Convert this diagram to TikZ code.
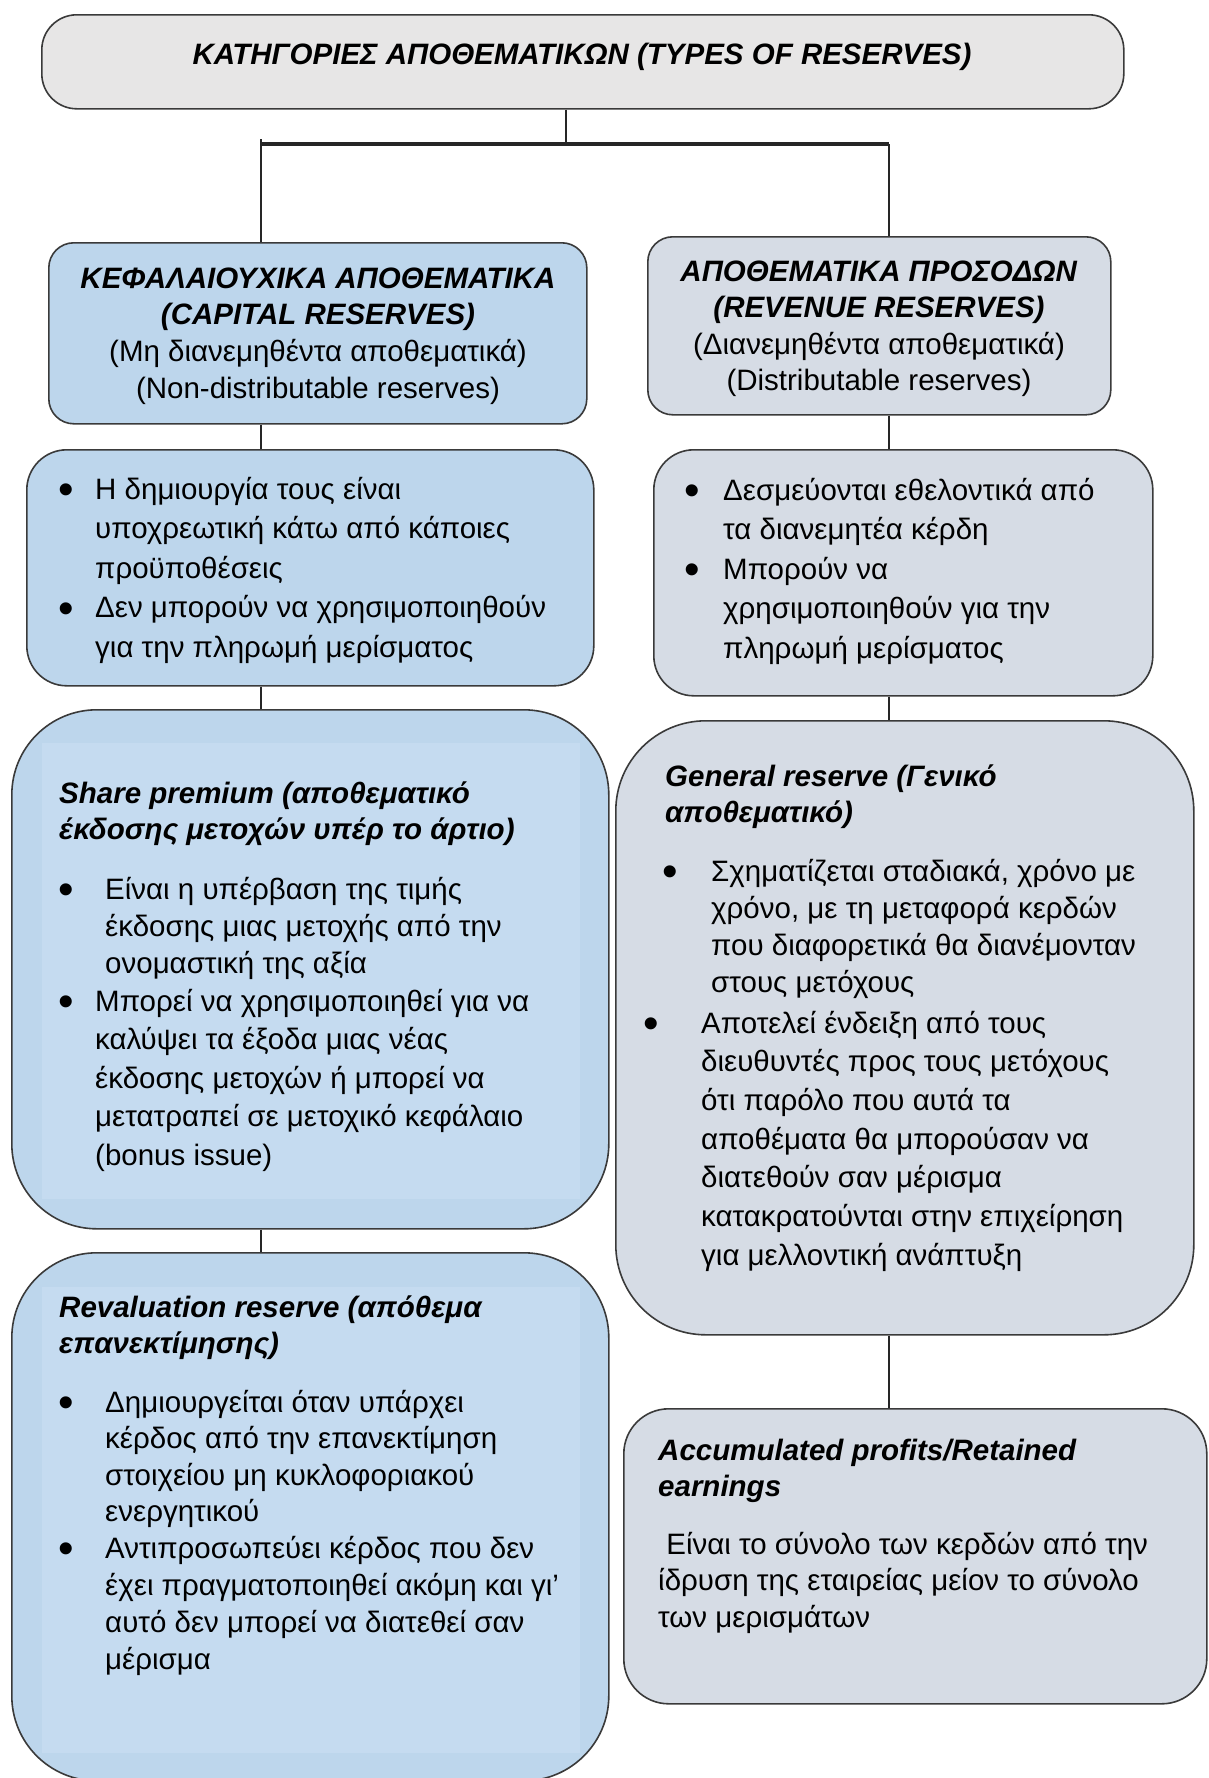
\documentclass[tikz,border=0pt]{standalone}
\usepackage{fontspec}
\setmainfont{Liberation Sans}
\usepackage{xcolor}
\usetikzlibrary{calc}

\definecolor{topgray}{HTML}{E7E6E6}
\definecolor{capblue}{HTML}{BDD6EC}
\definecolor{innerblue}{HTML}{C5DBF0}
\definecolor{revgray}{HTML}{D6DCE5}
\definecolor{edgegray}{HTML}{3A3A3A}
\definecolor{linkgray}{HTML}{262626}

\newcommand{\headtxt}[1]{\textbf{\textit{#1}}}
\newcommand{\dotmark}{\makebox[0pt][c]{\raisebox{-0.2em}{\scalebox{1.5}{•}}}}
\newcommand{\txtrows}[1]{\begin{tabular}[t]{@{}l@{}}#1\end{tabular}}
\newcommand{\midrows}[1]{\begin{tabular}[t]{@{}c@{}}#1\end{tabular}}
\newcommand{\bulrows}[2]{\begin{tabular}[t]{@{}p{#1}@{}l@{}}#2\end{tabular}}

\begin{document}
\begin{tikzpicture}[x=1pt, y=-1pt,
		box/.style={draw=edgegray, line width=1.6pt, anchor=north west, inner sep=0pt},
		link/.style={draw=linkgray, line width=2.6pt},
		body/.style={anchor=base west, inner sep=0pt, font=\fontsize{29.5}{#1}\selectfont},
		body/.default=38,
		title/.style={anchor=base west, inner sep=0pt, font=\fontsize{29.5}{36}\selectfont\bfseries\itshape}]

	\useasboundingbox (0,0) rectangle (1208,1778);

	\def\forkY{144};
	\coordinate (split) at (566,\forkY);
	\coordinate (forkL) at (261,\forkY);
	\coordinate (forkR) at (889,\forkY);

	% boxes
	\node[box, fill=topgray, rounded corners=35pt, minimum width=1082pt, minimum height=94pt] (top) at (41,14) {};
	\node[box, fill=capblue, rounded corners=25pt, minimum width=538pt, minimum height=181pt] (cap) at (48,242) {};
	\node[box, fill=revgray, rounded corners=25pt, minimum width=463pt, minimum height=178pt] (rev) at (647,236) {};
	\node[box, fill=capblue, rounded corners=40pt, minimum width=567pt, minimum height=236pt] (capbul) at (26,449) {};
	\node[box, fill=revgray, rounded corners=40pt, minimum width=499pt, minimum height=246pt] (revbul) at (653,449) {};
	\node[box, fill=capblue, rounded corners=85pt, minimum width=597pt, minimum height=519pt] (share) at (11,709) {};
	\node[box, fill=revgray, rounded corners=90pt, minimum width=578pt, minimum height=614pt] (general) at (615,720) {};
	\node[box, fill=capblue, rounded corners=85pt, minimum width=597pt, minimum height=528pt] (reval) at (11,1252) {};
	\node[box, fill=revgray, rounded corners=45pt, minimum width=583pt, minimum height=295pt] (accum) at (623,1408) {};

	\fill[innerblue] ($(share.north west)+(31,34)$) rectangle ($(share.south east)+(-30,-31)$);
	\fill[innerblue] ($(reval.north west)+(31,35)$) rectangle ($(reval.south east)+(-30,-29)$);

	% connectors
	\draw[link] (top.south -| split) -- (split);
	\draw[link, line width=4pt] (forkL) -- (forkR);
	\draw[link] ($(forkL)+(0,-5)$) -- (forkL |- cap.north);
	\draw[link] (forkR) -- (forkR |- rev.north);
	\draw[link] (cap.south -| forkL) -- (capbul.north -| forkL);
	\draw[link] (rev.south -| forkR) -- (revbul.north -| forkR);
	\draw[link] (capbul.south -| forkL) -- (share.north -| forkL);
	\draw[link] (revbul.south -| forkR) -- (general.north -| forkR);
	\draw[link] (share.south -| forkL) -- (reval.north -| forkL);
	\draw[link] (general.south -| forkR) -- (accum.north -| forkR);

	% texts
	\node[title, anchor=base] (toptext) at (582,64) {ΚΑΤΗΓΟΡΙΕΣ ΑΠΟΘΕΜΑΤΙΚΩΝ (TYPES OF RESERVES)};

	\node[body=36.7, anchor=base] (captext) at (318,288) {\midrows{\headtxt{ΚΕΦΑΛΑΙΟΥΧΙΚΑ ΑΠΟΘΕΜΑΤΙΚΑ}\\ \headtxt{(CAPITAL RESERVES)}\\ (Μη διανεμηθέντα αποθεματικά)\\ (Non-distributable reserves)}};
	\node[body=36.5, anchor=base] (revtext) at (879,281) {\midrows{\headtxt{ΑΠΟΘΕΜΑΤΙΚΑ ΠΡΟΣΟΔΩΝ}\\ \headtxt{(REVENUE RESERVES)}\\ (Διανεμηθέντα αποθεματικά)\\ (Distributable reserves)}};

	\node[body=39.5] (capbultext) at (66,499) {\bulrows{29pt}{\dotmark&Η δημιουργία τους είναι\\ &υποχρεωτική κάτω από κάποιες\\ &προϋποθέσεις\\ \dotmark&Δεν μπορούν να χρησιμοποιηθούν\\ &για την πληρωμή μερίσματος}};
	\node[body=39.5] (revbultext) at (692,500) {\bulrows{31pt}{\dotmark&Δεσμεύονται εθελοντικά από\\ &τα διανεμητέα κέρδη\\ \dotmark&Μπορούν να\\ &χρησιμοποιηθούν για την\\ &πληρωμή μερίσματος}};

	\node[title] (sharetitle) at (59,803) {\txtrows{Share premium (αποθεματικό\\ έκδοσης μετοχών υπέρ το άρτιο)}};
	\node[body=37] (shareone) at (66,899) {\bulrows{39pt}{\dotmark&Είναι η υπέρβαση της τιμής\\ &έκδοσης μιας μετοχής από την\\ &ονομαστική της αξία}};
	\node[body=38.5] (sharetwo) at (66,1011) {\bulrows{29pt}{\dotmark&Μπορεί να χρησιμοποιηθεί για να\\ &καλύψει τα έξοδα μιας νέας\\ &έκδοσης μετοχών ή μπορεί να\\ &μετατραπεί σε μετοχικό κεφάλαιο\\ &(bonus issue)}};

	\node[title] (gentitle) at (665,786) {\txtrows{General reserve (Γενικό\\ αποθεματικό)}};
	\node[body=37] (genone) at (670,881) {\bulrows{41pt}{\dotmark&Σχηματίζεται σταδιακά, χρόνο με\\ &χρόνο, με τη μεταφορά κερδών\\ &που διαφορετικά θα διανέμονταν\\ &στους μετόχους}};
	\node[body=38.7] (gentwo) at (651,1033) {\bulrows{50pt}{\dotmark&Αποτελεί ένδειξη από τους\\ &διευθυντές προς τους μετόχους\\ &ότι παρόλο που αυτά τα\\ &αποθέματα θα μπορούσαν να\\ &διατεθούν σαν μέρισμα\\ &κατακρατούνται στην επιχείρηση\\ &για μελλοντική ανάπτυξη}};

	\node[title] (revaltitle) at (59,1317) {\txtrows{Revaluation reserve (απόθεμα\\ επανεκτίμησης)}};
	\node[body=36.5] (revalone) at (66,1412) {\bulrows{39pt}{\dotmark&Δημιουργείται όταν υπάρχει\\ &κέρδος από την επανεκτίμηση\\ &στοιχείου μη κυκλοφοριακού\\ &ενεργητικού}};
	\node[body=37] (revaltwo) at (66,1558) {\bulrows{39pt}{\dotmark&Αντιπροσωπεύει κέρδος που δεν\\ &έχει πραγματοποιηθεί ακόμη και γι’\\ &αυτό δεν μπορεί να διατεθεί σαν\\ &μέρισμα}};

	\node[title] (accumtitle) at (658,1460) {\txtrows{Accumulated profits/Retained\\ earnings}};
	\node[body=36.5] (accumtext) at (658,1554) {\txtrows{\ Είναι το σύνολο των κερδών από την\\ ίδρυση της εταιρείας μείον το σύνολο\\ των μερισμάτων}};
\end{tikzpicture}
\end{document}
